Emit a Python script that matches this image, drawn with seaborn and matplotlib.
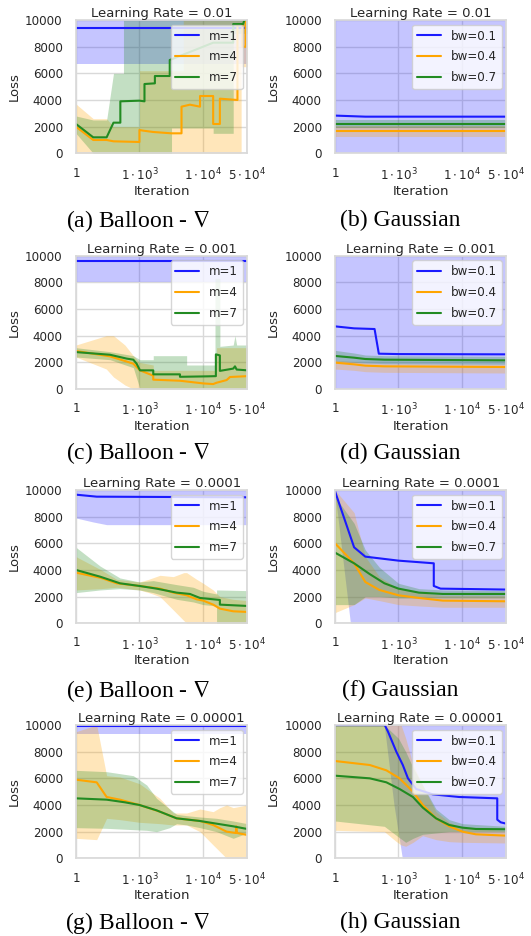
import seaborn as sns
import matplotlib.pyplot as plt
from matplotlib.ticker import NullLocator

# each series: line x / y, band x / lower / upper  (iterations, loss)

# (a) Balloon, lr = 0.01
a_m1_x = [100, 50000]
a_m1_y = [9380, 9380]
a_m1_bx = [100, 50000]
a_m1_lo = [6700, 6700]
a_m1_hi = [10000, 10000]
a_m4_x = [100, 187, 304, 390, 1000, 1000, 1150, 1650, 3200, 4600, 4600, 6240, 9000, 9000,
          14500, 14500, 18500, 18500, 35000, 35000, 42000, 42000, 47000, 47000, 50000]
a_m4_y = [2000, 1000, 1000, 900, 850, 1750, 1700, 1600, 1500, 1500, 3500, 3650, 3500, 4300,
          4300, 2200, 2200, 4100, 4000, 9700, 9700, 8000, 8000, 10000, 10000]
a_m4_bx = [100, 187, 304, 390, 1000, 1000, 4900, 4900, 40000, 40000, 50000]
a_m4_lo = [0, 0, 0, 0, 0, 0, 0, 0, 0, 6500, 6500]
a_m4_hi = [3700, 2600, 2600, 2000, 2000, 6200, 6200, 10000, 10000, 10000, 10000]
a_m7_x = [100, 187, 304, 390, 500, 500, 1000, 1200, 1200, 1750, 1750, 3000, 3000, 14500,
          30000, 30000, 43000, 45000, 50000]
a_m7_y = [2200, 1200, 1200, 2300, 2300, 3900, 3950, 3900, 5200, 5250, 5800, 5800, 7000, 8300,
          8300, 9700, 9700, 10000, 10000]
a_m7_bx = [100, 187, 304, 390, 560, 560, 3200, 3200, 14500, 14500, 30000, 30000, 50000]
a_m7_lo = [1500, 0, 0, 0, 0, 0, 0, 1900, 1900, 1500, 1500, 9000, 9000]
a_m7_hi = [2800, 2500, 2500, 6000, 6000, 10000, 10000, 10000, 10000, 10000, 10000, 10000, 10000]

# (b) Gaussian, lr = 0.01
b_bw1_x = [100, 300, 50000]
b_bw1_y = [2830, 2750, 2750]
b_bw1_bx = [100, 50000]
b_bw1_lo = [0, 0]
b_bw1_hi = [10000, 10000]
b_bw4_x = [100, 50000]
b_bw4_y = [1650, 1650]
b_bw4_bx = [100, 50000]
b_bw4_lo = [1200, 1200]
b_bw4_hi = [2050, 2050]
b_bw7_x = [100, 50000]
b_bw7_y = [2180, 2180]
b_bw7_bx = [100, 50000]
b_bw7_lo = [1900, 1900]
b_bw7_hi = [2500, 2500]

# (c) Balloon, lr = 0.001
c_m1_x = [100, 50000]
c_m1_y = [9630, 9630]
c_m1_bx = [100, 50000]
c_m1_lo = [8000, 8000]
c_m1_hi = [10000, 10000]
c_m4_x = [100, 343, 591, 800, 902, 1020, 1300, 1650, 1650, 4350, 10100, 14500, 16400, 23600, 26700, 50000]
c_m4_y = [2850, 2450, 2100, 1900, 1650, 1400, 1200, 1000, 700, 620, 420, 370, 470, 670, 900, 965]
c_m4_bx = [100, 300, 390, 590, 800, 1000, 1650, 1650, 16400, 16400, 50000]
c_m4_lo = [2400, 1500, 900, 300, 0, 0, 0, 0, 0, 0, 0]
c_m4_hi = [3300, 4000, 4000, 3300, 2500, 2000, 1800, 1400, 1400, 3100, 3100]
c_m7_x = [100, 343, 630, 800, 902, 1020, 1650, 1650, 4350, 4350, 12000, 16000, 16000, 18500,
          18500, 30000, 32000, 34000, 50000]
c_m7_y = [2770, 2570, 2280, 2200, 1900, 1400, 1400, 1100, 1100, 915, 950, 965, 2600, 2520,
          1360, 1530, 1700, 1460, 1400]
c_m7_bx = [100, 343, 800, 1020, 1650, 1650, 5540, 5540, 15500, 15500, 18500, 18500, 30000,
           32000, 34000, 50000]
c_m7_lo = [2400, 2200, 1600, 0, 0, 0, 0, 0, 0, 0, 0, 0, 0, 0, 0, 0]
c_m7_hi = [3100, 2800, 2500, 2200, 2200, 2500, 2500, 1800, 1800, 8300, 8300, 3200, 3300,
           4000, 3300, 3300]

# (d) Gaussian, lr = 0.001
d_bw1_x = [100, 200, 420, 490, 1000, 50000]
d_bw1_y = [4700, 4550, 4500, 2650, 2620, 2600]
d_bw1_bx = [100, 50000]
d_bw1_lo = [0, 0]
d_bw1_hi = [10000, 10000]
d_bw4_x = [100, 200, 300, 600, 50000]
d_bw4_y = [1980, 1850, 1750, 1700, 1650]
d_bw4_bx = [100, 200, 300, 600, 50000]
d_bw4_lo = [1500, 1400, 1300, 1250, 1200]
d_bw4_hi = [2150, 2050, 1950, 1900, 1850]
d_bw7_x = [100, 200, 300, 600, 50000]
d_bw7_y = [2480, 2350, 2250, 2200, 2150]
d_bw7_bx = [100, 200, 300, 600, 50000]
d_bw7_lo = [2100, 2000, 1950, 1900, 1850]
d_bw7_hi = [2900, 2700, 2550, 2500, 2450]

# (e) Balloon, lr = 0.0001
e_m1_x = [100, 212, 50000]
e_m1_y = [9650, 9500, 9450]
e_m1_bx = [100, 187, 304, 50000]
e_m1_lo = [7900, 7600, 7400, 7400]
e_m1_hi = [10000, 10000, 10000, 10000]
e_m4_x = [100, 250, 437, 1000, 2100, 3410, 5540, 7950, 10100, 14500, 18500, 30000, 50000]
e_m4_y = [3800, 3400, 3000, 2800, 2600, 2300, 2100, 1800, 1700, 1400, 1100, 900, 850]
e_m4_bx = [100, 250, 437, 1000, 1400, 2100, 3410, 5000, 5540, 7950, 10100, 14500, 18500, 30000, 50000]
e_m4_lo = [2500, 2600, 2700, 2500, 2300, 2000, 1000, 200, 0, 0, 0, 0, 0, 0, 0]
e_m4_hi = [5000, 4000, 3300, 3100, 3300, 3600, 3500, 3800, 3800, 3300, 3000, 2500, 2000, 1800, 1700]
e_m7_x = [100, 239, 493, 1000, 1860, 3850, 6240, 8980, 14500, 18500, 18500, 50000]
e_m7_y = [4000, 3500, 3000, 2800, 2600, 2300, 2200, 1900, 1800, 1750, 1400, 1300]
e_m7_bx = [100, 239, 493, 1000, 1650, 3850, 7060, 10100, 16400, 16400, 50000]
e_m7_lo = [2300, 2500, 2600, 2500, 2300, 1800, 1600, 1400, 1300, 0, 0]
e_m7_hi = [5700, 4300, 3400, 3100, 3200, 2900, 2700, 2400, 2200, 2500, 2450]

# (f) Gaussian, lr = 0.0001
f_bw1_x = [100, 200, 300, 1000, 3600, 3600, 4600, 50000]
f_bw1_y = [9900, 5700, 5000, 4700, 4500, 2800, 2600, 2530]
f_bw1_bx = [100, 175, 50000]
f_bw1_lo = [9800, 0, 0]
f_bw1_hi = [10000, 10000, 10000]
f_bw4_x = [100, 200, 300, 500, 1000, 2100, 5000, 50000]
f_bw4_y = [6000, 4500, 3100, 2500, 2100, 1900, 1700, 1650]
f_bw4_bx = [100, 200, 300, 500, 1000, 2100, 5000, 50000]
f_bw4_lo = [800, 1400, 1900, 1700, 1400, 1300, 1200, 1200]
f_bw4_hi = [10000, 8300, 5000, 3500, 2600, 2300, 2100, 2100]
f_bw7_x = [100, 200, 350, 600, 1000, 2100, 5000, 50000]
f_bw7_y = [5300, 4500, 3700, 3000, 2600, 2300, 2200, 2200]
f_bw7_bx = [100, 200, 300, 500, 1000, 2100, 5000, 50000]
f_bw7_lo = [1400, 1400, 2000, 2000, 1900, 1900, 1900, 1900]
f_bw7_hi = [9500, 7500, 5500, 4200, 3000, 2600, 2500, 2450]

# (g) Balloon, lr = 0.00001
g_m1_x = [100, 50000]
g_m1_y = [9950, 9950]
g_m1_bx = [100, 50000]
g_m1_lo = [9350, 9350]
g_m1_hi = [10000, 10000]
g_m4_x = [100, 212, 304, 493, 1000, 2100, 3850, 8980, 14500, 23600, 33000, 33500, 34500, 50000]
g_m4_y = [5900, 5700, 4600, 4400, 4000, 3500, 3000, 2800, 2500, 2000, 1900, 2400, 1900, 1750]
g_m4_bx = [100, 212, 304, 493, 1000, 2100, 3410, 5540, 8980, 14500, 18500, 23600, 30000, 50000]
g_m4_lo = [1500, 1400, 3000, 2900, 2700, 2600, 2500, 2500, 2000, 1000, 500, 0, 0, 0]
g_m4_hi = [9500, 10000, 6200, 6100, 5600, 4500, 3400, 3400, 3700, 3500, 3800, 4000, 3800, 4000]
g_m7_x = [100, 304, 591, 1000, 1860, 3850, 8980, 16400, 30000, 50000]
g_m7_y = [4500, 4400, 4200, 4000, 3600, 3000, 2800, 2600, 2400, 2200]
g_m7_bx = [100, 304, 800, 1300, 1860, 3000, 3850, 5540, 8980, 16400, 30000, 50000]
g_m7_lo = [2300, 2250, 2150, 2100, 2000, 2300, 2600, 2500, 2300, 2000, 1500, 1900]
g_m7_hi = [6600, 6500, 6200, 5500, 4500, 3700, 3300, 3200, 3100, 3000, 2800, 2600]

# (h) Gaussian, lr = 0.00001
h_bw1_x = [100, 607, 684, 925, 1170, 1410, 1900, 3470, 9060, 36000, 36000, 40800, 50000]
h_bw1_y = [10000, 10000, 9500, 8000, 7000, 6000, 5200, 4800, 4600, 4500, 2900, 2700, 2600]
h_bw1_bx = [100, 600, 850, 1150, 50000]
h_bw1_lo = [9900, 9900, 4000, 0, 0]
h_bw1_hi = [10000, 10000, 10000, 10000, 10000]
h_bw4_x = [100, 353, 645, 1040, 1690, 2420, 3900, 6300, 10200, 16600, 50000]
h_bw4_y = [7300, 7000, 6600, 6000, 5000, 4000, 3000, 2400, 2000, 1800, 1700]
h_bw4_bx = [100, 600, 900, 1100, 1300, 1700, 2400, 3900, 6300, 10200, 50000]
h_bw4_lo = [2100, 2000, 1300, 1000, 900, 1200, 1700, 1400, 1250, 1200, 1150]
h_bw4_hi = [10000, 10000, 10000, 10000, 9000, 7000, 5500, 3500, 2700, 2300, 2100]
h_bw7_x = [100, 353, 645, 1040, 1690, 2420, 3900, 6300, 10200, 16600, 50000]
h_bw7_y = [6200, 6000, 5700, 5200, 4600, 3800, 3000, 2500, 2300, 2200, 2180]
h_bw7_bx = [100, 600, 1000, 1300, 1700, 2400, 3900, 6300, 10200, 50000]
h_bw7_lo = [2800, 2400, 1600, 1200, 1500, 1800, 1900, 2000, 2000, 2000]
h_bw7_hi = [10000, 10000, 9000, 8000, 6800, 5500, 3700, 2900, 2600, 2400]

balloon_labels = ["m=1", "m=4", "m=7"]
gauss_labels = ["bw=0.1", "bw=0.4", "bw=0.7"]
titles = ["Learning Rate = 0.01", "Learning Rate = 0.001",
          "Learning Rate = 0.0001", "Learning Rate = 0.00001"]
captions = [r"(a) Balloon - $\nabla$", "(b) Gaussian", r"(c) Balloon - $\nabla$", "(d) Gaussian",
            r"(e) Balloon - $\nabla$", "(f) Gaussian", r"(g) Balloon - $\nabla$", "(h) Gaussian"]
xtick_vals = [100, 1000, 10000, 50000]
xtick_labels = ["1", r"$1\cdot10^3$", r"$1\cdot10^4$", r"$5\cdot10^4$"]
colors = ["#1a1aff", "orange", "forestgreen"]
band_alpha = [0.25, 0.27, 0.27]

panels = [
    [(a_m1_x, a_m1_y, a_m1_bx, a_m1_lo, a_m1_hi), (a_m4_x, a_m4_y, a_m4_bx, a_m4_lo, a_m4_hi),
     (a_m7_x, a_m7_y, a_m7_bx, a_m7_lo, a_m7_hi)],
    [(b_bw1_x, b_bw1_y, b_bw1_bx, b_bw1_lo, b_bw1_hi), (b_bw4_x, b_bw4_y, b_bw4_bx, b_bw4_lo, b_bw4_hi),
     (b_bw7_x, b_bw7_y, b_bw7_bx, b_bw7_lo, b_bw7_hi)],
    [(c_m1_x, c_m1_y, c_m1_bx, c_m1_lo, c_m1_hi), (c_m4_x, c_m4_y, c_m4_bx, c_m4_lo, c_m4_hi),
     (c_m7_x, c_m7_y, c_m7_bx, c_m7_lo, c_m7_hi)],
    [(d_bw1_x, d_bw1_y, d_bw1_bx, d_bw1_lo, d_bw1_hi), (d_bw4_x, d_bw4_y, d_bw4_bx, d_bw4_lo, d_bw4_hi),
     (d_bw7_x, d_bw7_y, d_bw7_bx, d_bw7_lo, d_bw7_hi)],
    [(e_m1_x, e_m1_y, e_m1_bx, e_m1_lo, e_m1_hi), (e_m4_x, e_m4_y, e_m4_bx, e_m4_lo, e_m4_hi),
     (e_m7_x, e_m7_y, e_m7_bx, e_m7_lo, e_m7_hi)],
    [(f_bw1_x, f_bw1_y, f_bw1_bx, f_bw1_lo, f_bw1_hi), (f_bw4_x, f_bw4_y, f_bw4_bx, f_bw4_lo, f_bw4_hi),
     (f_bw7_x, f_bw7_y, f_bw7_bx, f_bw7_lo, f_bw7_hi)],
    [(g_m1_x, g_m1_y, g_m1_bx, g_m1_lo, g_m1_hi), (g_m4_x, g_m4_y, g_m4_bx, g_m4_lo, g_m4_hi),
     (g_m7_x, g_m7_y, g_m7_bx, g_m7_lo, g_m7_hi)],
    [(h_bw1_x, h_bw1_y, h_bw1_bx, h_bw1_lo, h_bw1_hi), (h_bw4_x, h_bw4_y, h_bw4_bx, h_bw4_lo, h_bw4_hi),
     (h_bw7_x, h_bw7_y, h_bw7_bx, h_bw7_lo, h_bw7_hi)],
]

sns.set_theme(style="whitegrid", rc={
    "axes.edgecolor": ".85", "grid.color": ".85", "axes.labelcolor": ".15",
    "xtick.color": ".15", "ytick.color": ".15", "text.color": ".15",
    "xtick.labelsize": 8.6, "ytick.labelsize": 8.6, "axes.labelsize": 9.5,
    "axes.titlesize": 9.5, "legend.fontsize": 8.6,
})

fig = plt.figure(figsize=(5.31, 9.36), dpi=100)
col_left = [0.1431, 0.6309]
row_bottom = [0.8362, 0.5844, 0.3341, 0.0830]
cap_x = [0.26, 0.753]
cap_y = [0.764, 0.516, 0.262, 0.014]

for i, series in enumerate(panels):
    row, col = i // 2, i % 2
    ax = fig.add_axes([col_left[col], row_bottom[row], 0.3226, 0.1424])
    labels = balloon_labels if col == 0 else gauss_labels

    # bands first, then the mean lines on top
    for (x, y, bx, lo, hi), c, a in zip(series, colors, band_alpha):
        ax.fill_between(bx, lo, hi, color=c, alpha=a, lw=0)
    for (x, y, bx, lo, hi), c, lab in zip(series, colors, labels):
        sns.lineplot(x=x, y=y, ax=ax, color=c, label=lab, estimator=None, sort=False, lw=1.5)

    ax.set_xscale("log")
    ax.set_xlim(100, 50000)
    ax.set_ylim(0, 10000)
    ax.set_xticks(xtick_vals)
    ax.set_xticklabels(xtick_labels)
    ax.xaxis.set_minor_locator(NullLocator())
    ax.set_yticks(range(0, 10001, 2000))
    ax.set_xlabel("Iteration", labelpad=1)
    ax.set_ylabel("Loss", labelpad=3)
    ax.set_title(titles[row], pad=2)
    ax.legend(loc="upper right", labelspacing=0.65, borderaxespad=0.4)

    fig.text(cap_x[col], cap_y[row], captions[i], ha="center", va="center",
             fontsize=17, family="Liberation Serif", math_fontfamily="stix", color="black")

fig.savefig("out.png", dpi=100)
